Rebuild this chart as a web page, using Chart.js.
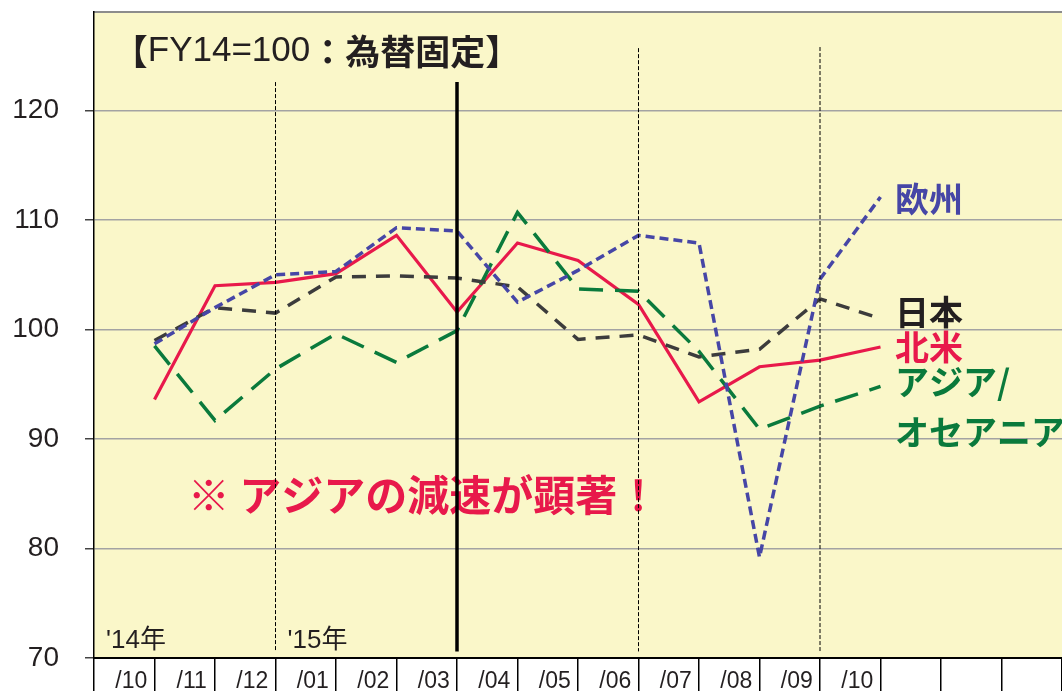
<!DOCTYPE html>
<html>
<head>
<meta charset="utf-8">
<script src="https://cdn.jsdelivr.net/npm/chart.js@4"></script>
<style>
html, body { margin: 0; padding: 0; background: #fff; }
</style>
</head>
<body>
<canvas id="chart" width="1062" height="691"></canvas>
<script>
// monthly index, FY14 = 100, fixed exchange rate
const months = ['/10','/11','/12','/01','/02','/03','/04','/05','/06','/07','/08','/09','/10','','','']
const northAmerica = [93.6, 104.0, 104.3, 105.1, 108.6, 101.6, 107.9, 106.3, 102.3, 93.4, 96.6, 97.2, 98.4]
const europe = [98.7, 102.0, 105.0, 105.3, 109.3, 109.0, 102.5, 105.4, 108.6, 107.9, 79.2, 104.6, 112.1]
const japan = [99.0, 102.0, 101.5, 104.8, 104.9, 104.7, 103.9, 99.1, 99.5, 97.5, 98.2, 102.8, 101.0]
const asia = [98.5, 91.7, 96.4, 99.6, 97.0, 99.9, 110.7, 103.7, 103.5, 98.0, 90.9, 93.0, 94.8]
const yTicks = [70, 80, 90, 100, 110, 120]

const sans = "'Liberation Sans', Arial, sans-serif"
const jp = "'Noto Sans CJK JP', sans-serif"

// points sit on the month boundaries, so they go on a hidden linear axis
const toPoints = arr => arr.map((v, i) => ({ x: i + 1, y: v }))

const noPad = s => { s.paddingTop = 0; s.paddingBottom = 0; s.paddingLeft = 0; s.paddingRight = 0 }

const overlay = {
  id: 'overlay',
  beforeDraw(chart) {
    const { ctx, chartArea: a } = chart
    ctx.save()
    ctx.fillStyle = '#faf7c9'
    ctx.fillRect(a.left, a.top, a.right - a.left, a.bottom - a.top)
    ctx.strokeStyle = '#8c8c8c'
    ctx.lineWidth = 2
    ctx.beginPath()
    ctx.moveTo(a.left, a.top)
    ctx.lineTo(a.right, a.top)
    ctx.stroke()
    ctx.restore()
  },
  afterDatasetsDraw(chart) {
    const { ctx } = chart
    const xs = chart.scales.xl
    const ys = chart.scales.y
    const px = v => xs.getPixelForValue(v)
    const py = v => ys.getPixelForValue(v)
    ctx.save()
    ctx.textBaseline = 'middle'

    // title
    let x = px(0.31)
    const ty = py(125.4)
    ctx.fillStyle = '#231f20'
    ctx.font = 'bold 35px ' + jp
    ctx.fillText('【', x, ty)
    x += ctx.measureText('【').width
    ctx.font = '35px ' + sans
    ctx.fillText('FY14=100', x, ty)
    x += ctx.measureText('FY14=100').width
    ctx.font = 'bold 35px ' + jp
    ctx.fillText('：為替固定】', x, ty)

    // year markers
    ctx.font = '26px ' + sans + ", 'Noto Sans CJK JP'"
    ctx.fillText("'14年", px(0.2), py(71.55))
    ctx.fillText("'15年", px(3.2), py(71.55))

    // note
    ctx.fillStyle = '#e8194b'
    ctx.font = 'bold 42px ' + jp
    ctx.fillText('※ アジアの減速が顕著！', px(1.55), py(84.9))

    // series names
    ctx.font = 'bold 34px ' + jp
    const names = [
      ['欧州', '#4646a6', 111.9],
      ['日本', '#231f20', 101.6],
      ['北米', '#e8194b', 98.4],
      ['アジア/', '#0a7a3c', 95.2],
      ['オセアニア', '#0a7a3c', 90.6],
    ]
    names.forEach(([t, c, v]) => {
      ctx.fillStyle = c
      ctx.fillText(t, px(13.24), py(v))
    })

    // period separators
    const seps = [[3, 122.6, false], [6, 122.6, true], [9, 125.7, false], [12, 125.8, false]]
    ctx.strokeStyle = '#000'
    seps.forEach(([v, top, solid]) => {
      ctx.lineWidth = solid ? 3.5 : 1
      ctx.setLineDash(solid ? [] : [4, 2])
      ctx.beginPath()
      ctx.moveTo(px(v), py(top))
      ctx.lineTo(px(v), py(70.6))
      ctx.stroke()
    })
    ctx.restore()
  }
}

const data = {
  labels: months,
  datasets: [
    {
      label: '欧州',
      data: toPoints(europe),
      xAxisID: 'xl',
      borderColor: '#4646a6',
      borderWidth: 3.5,
      borderDash: [9, 5],
      pointRadius: 0,
      tension: 0,
    },
    {
      label: '日本',
      data: toPoints(japan),
      xAxisID: 'xl',
      borderColor: '#3c3c3c',
      borderWidth: 3.5,
      borderDash: [14, 10],
      pointRadius: 0,
      tension: 0,
    },
    {
      label: 'アジア/オセアニア',
      data: toPoints(asia),
      xAxisID: 'xl',
      borderColor: '#0a7a3c',
      borderWidth: 3.5,
      borderDash: [24, 12],
      pointRadius: 0,
      tension: 0,
    },
    {
      label: '北米',
      data: toPoints(northAmerica),
      xAxisID: 'xl',
      borderColor: '#e8194b',
      borderWidth: 3.2,
      pointRadius: 0,
      tension: 0,
    },
  ],
}

const config = {
  type: 'line',
  data: data,
  plugins: [overlay],
  options: {
    responsive: false,
    animation: false,
    devicePixelRatio: 1,
    layout: { padding: { top: 12, left: 0, right: 0, bottom: 0 } },
    plugins: { legend: { display: false }, tooltip: { enabled: false } },
    scales: {
      x: {
        type: 'category',
        offset: true,
        grid: { offset: true, drawOnChartArea: false, tickLength: 33, color: '#000', lineWidth: 1.5 },
        border: { color: '#000', width: 2 },
        ticks: {
          font: { family: sans, size: 23 },
          color: '#231f20',
          padding: -23,
          labelOffset: 7,
          maxRotation: 0,
          autoSkip: false,
        },
        afterFit: s => { s.height = 33; noPad(s) },
      },
      xl: { type: 'linear', display: false, min: 0, max: 16 },
      y: {
        min: 70,
        max: 129,
        afterBuildTicks: s => { s.ticks = yTicks.map(v => ({ value: v })) },
        grid: { color: '#a3a3a3', lineWidth: 1.5, tickLength: 9, tickColor: '#444' },
        border: { color: '#000', width: 1.5 },
        ticks: { font: { family: sans, size: 28 }, color: '#231f20', padding: 26 },
        afterFit: s => { s.width = 94; noPad(s) },
      },
    },
  },
}

const ctx = document.getElementById('chart')
const chart = new Chart(ctx, config)
</script>
</body>
</html>
